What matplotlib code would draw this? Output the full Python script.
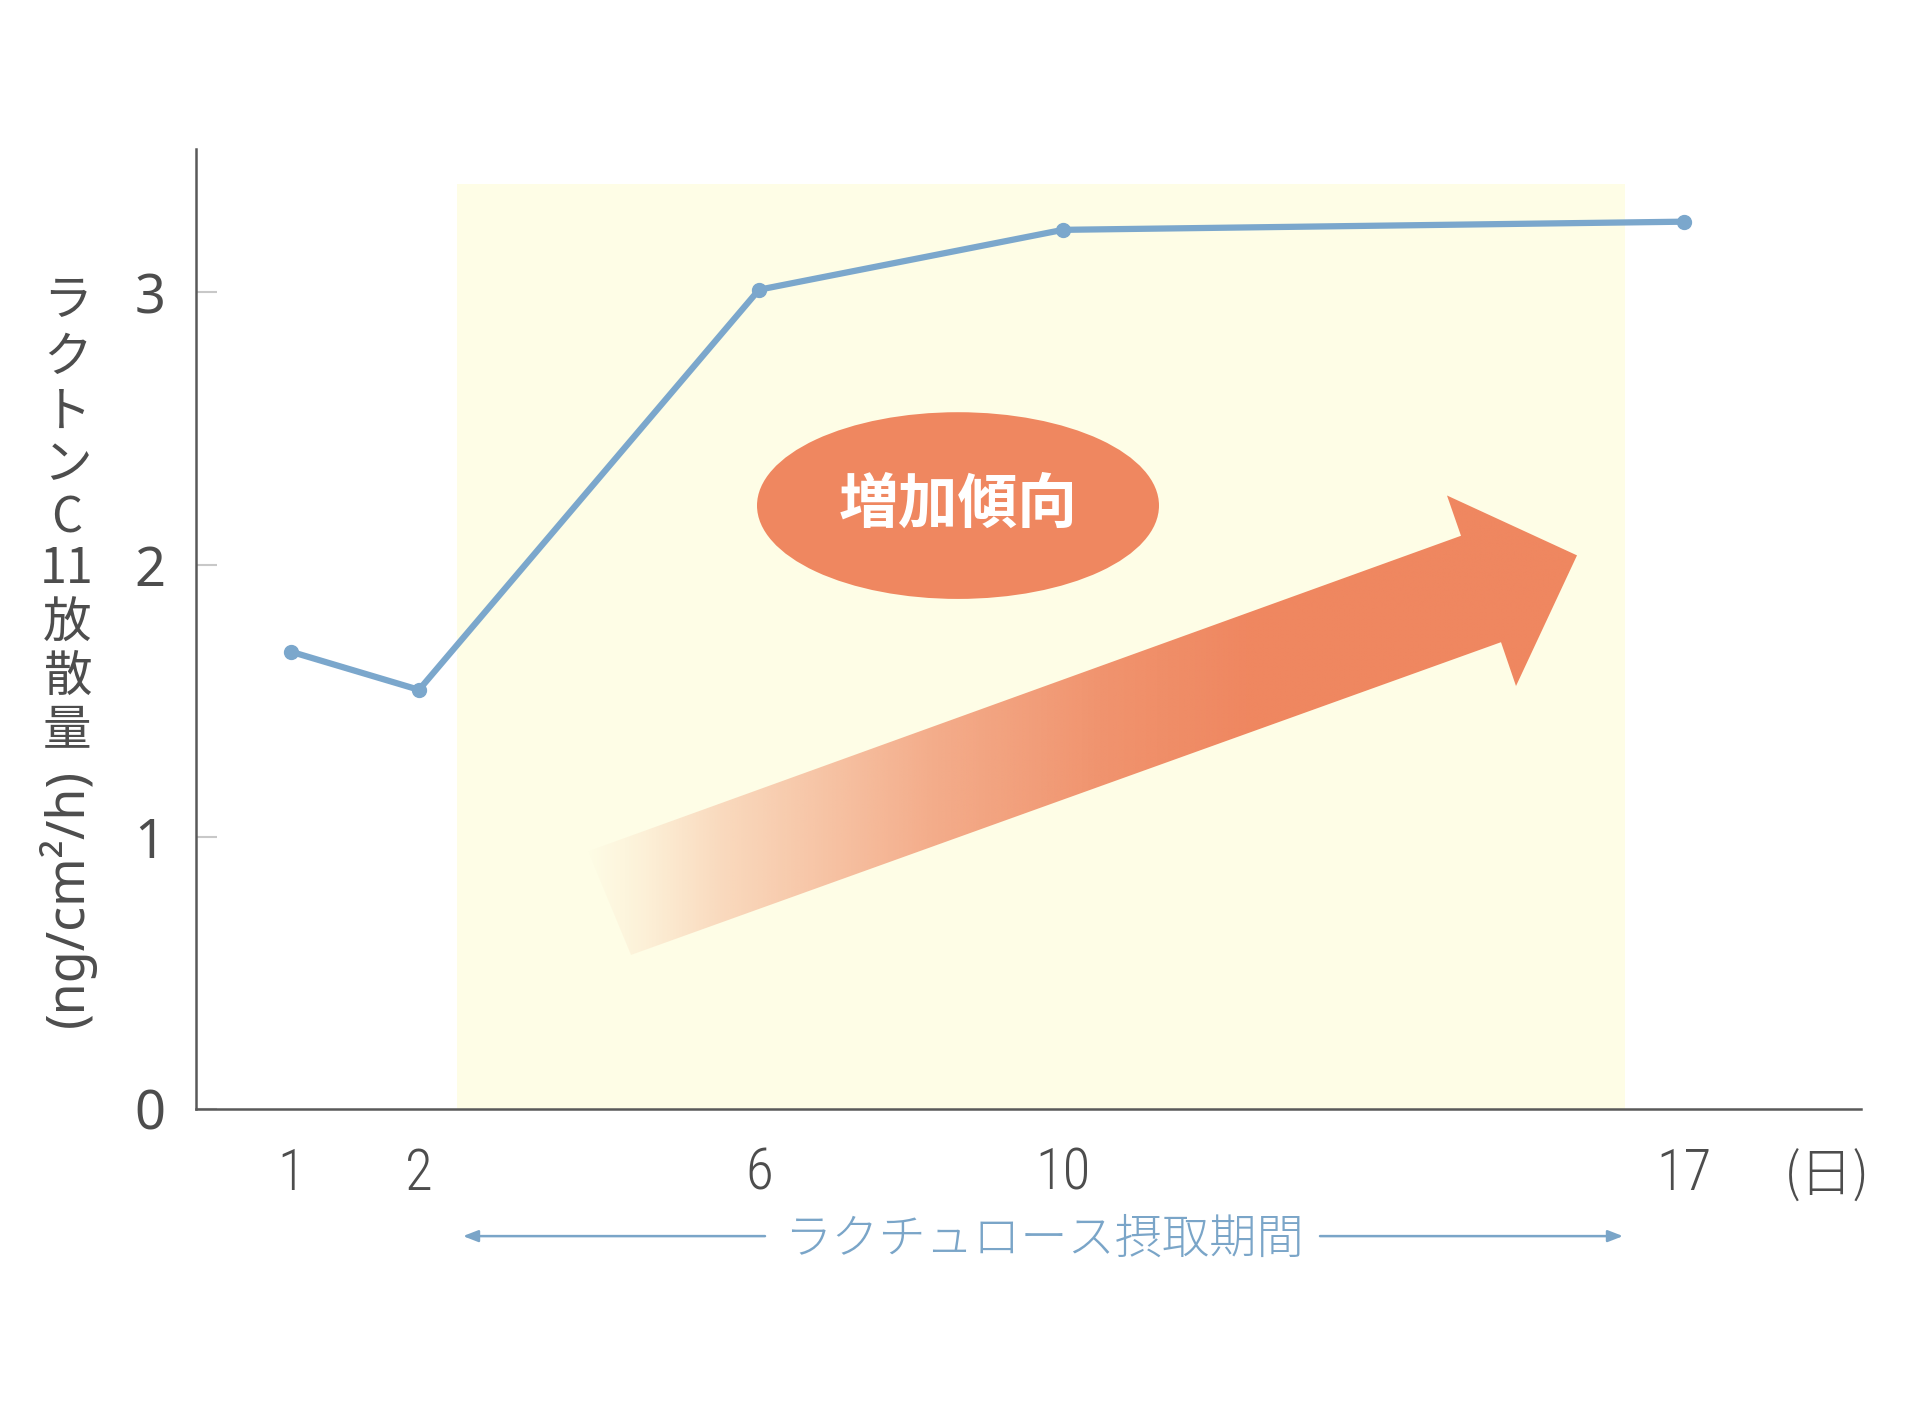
import numpy as np
import matplotlib
matplotlib.use("Agg")
import matplotlib.pyplot as plt
from matplotlib.patches import Rectangle, Ellipse, Polygon

# ---------------- data ----------------
days = ["1", "2", "6", "10", "17"]
values = [1.68, 1.54, 3.01, 3.23, 3.26]
yticks = [0, 1, 2, 3]
ytick_labels = ["0", "1", "2", "3"]
unit_label = "(日)"
period_label = "ラクチュロース摂取期間"
trend_label = "増加傾向"
ylabel_chars = ["ラ", "ク", "ト", "ン", "C", "11", "放", "散", "量"]
ylabel_unit = "(ng/cm²/h)"

# ---------------- layout / style ----------------
X_POS = [291, 419, 759, 1063, 1684]          # schematic positions of the days
XLIM = (196, 1861)
YLIM = (0, 3.527)
PERIOD_X = (457, 1625)                      # shaded intake period
PERIOD_TOP = 3.40
LINE_C = "#7ba7cc"
TXT_C = "#4d4d4d"
ORANGE = "#ef8760"
BLUE_T = "#7aa5c8"
NARROW = ["Roboto Condensed", "Liberation Sans Narrow", "DejaVu Sans Condensed", "Noto Sans"]
CJK = ["Noto Sans CJK JP", "DejaVu Sans"]

plt.rcParams["font.family"] = ["Noto Sans", "Noto Sans CJK JP", "DejaVu Sans"]

fig = plt.figure(figsize=(19.2, 14.17), dpi=100)
ax = fig.add_axes([196 / 1920, 1 - 1109 / 1417, (1861 - 196) / 1920, (1109 - 149) / 1417])
ax.set_xlim(*XLIM)
ax.set_ylim(*YLIM)
ax.patch.set_alpha(0)

for s in ["top", "right"]:
    ax.spines[s].set_visible(False)
for s in ["left", "bottom"]:
    ax.spines[s].set_color("#595959")
    ax.spines[s].set_linewidth(1.8)

# shaded period
ax.add_patch(Rectangle((PERIOD_X[0], 0), PERIOD_X[1] - PERIOD_X[0], PERIOD_TOP,
                       facecolor="#fefde6", edgecolor="none", zorder=0))

# gradient arrow
arrow_pts = [(631, 0.566), (588, 0.947), (1461, 2.106), (1447, 2.254),
             (1577, 2.034), (1516, 1.554), (1501, 1.715)]
poly = Polygon(arrow_pts, closed=True, facecolor="none", edgecolor="none", zorder=2)
ax.add_patch(poly)
xs = np.linspace(585, 1580, 600)
alpha = np.interp(xs, [585, 640, 720, 930, 1105, 1245], [0.0, 0.10, 0.30, 0.68, 0.90, 1.0])
rgb = np.array(matplotlib.colors.to_rgb(ORANGE))
img = np.zeros((2, xs.size, 4))
img[..., :3] = rgb
img[..., 3] = alpha
im = ax.imshow(img, extent=[585, 1580, 0.56, 2.26], origin="lower", aspect="auto",
               interpolation="bilinear", zorder=2)
im.set_clip_path(poly)

# ellipse with label
ax.add_patch(Ellipse((958, 2.217), 402, 0.686, facecolor=ORANGE, edgecolor="none", zorder=3))
ax.text(958, 2.217, trend_label, color="white", fontsize=43, fontweight="bold",
        family=CJK, ha="center", va="center", zorder=4)

# data line
ax.plot(X_POS, values, color=LINE_C, lw=4.5, marker="o", ms=10, zorder=5,
        solid_joinstyle="round", clip_on=False)

# ticks
ax.set_yticks(yticks, ytick_labels)
ax.tick_params(axis="y", direction="in", length=15, width=1.5, color="#c8c8c8",
               pad=22, labelsize=39, labelcolor=TXT_C)
ax.set_xticks(X_POS, days)
ax.tick_params(axis="x", length=0, pad=27, labelsize=41, labelcolor=TXT_C)
for t in ax.get_xticklabels():
    t.set_family(NARROW)
    t.set_fontweight("light")

ax.set_ylim(*YLIM)
ax.set_xlim(*XLIM)

# unit of x
ax.text(1827, -0.305, unit_label, color=TXT_C, fontsize=38, ha="center", va="baseline",
        family=CJK, fontweight="light", clip_on=False)

# intake period annotation
ax.text(1044, -0.477, period_label, color=BLUE_T, fontsize=34, ha="center", va="center",
        family=CJK, fontweight="light", clip_on=False)
arrow_kw = dict(arrowstyle="-|>,head_length=0.9,head_width=0.35", color=BLUE_T, lw=1.8,
                shrinkA=0, shrinkB=0)
ax.annotate("", xy=(463, -0.467), xytext=(765, -0.467), arrowprops=arrow_kw,
            annotation_clip=False)
ax.annotate("", xy=(1623, -0.467), xytext=(1320, -0.467), arrowprops=arrow_kw,
            annotation_clip=False)

# vertical y-axis label
char_y = [301, 358, 413, 465, 519, 569, 624, 677, 731]
for ch, py in zip(ylabel_chars, char_y):
    fig.text(67 / 1920, 1 - py / 1417, ch, color=TXT_C, fontsize=35, ha="center", va="center",
             family=CJK)
fig.text(67 / 1920, 1 - 898 / 1417, ylabel_unit, color=TXT_C, fontsize=37.5, rotation=90,
         ha="center", va="center", family=["Noto Sans", "DejaVu Sans"])

fig.savefig("out.png", dpi=100)
